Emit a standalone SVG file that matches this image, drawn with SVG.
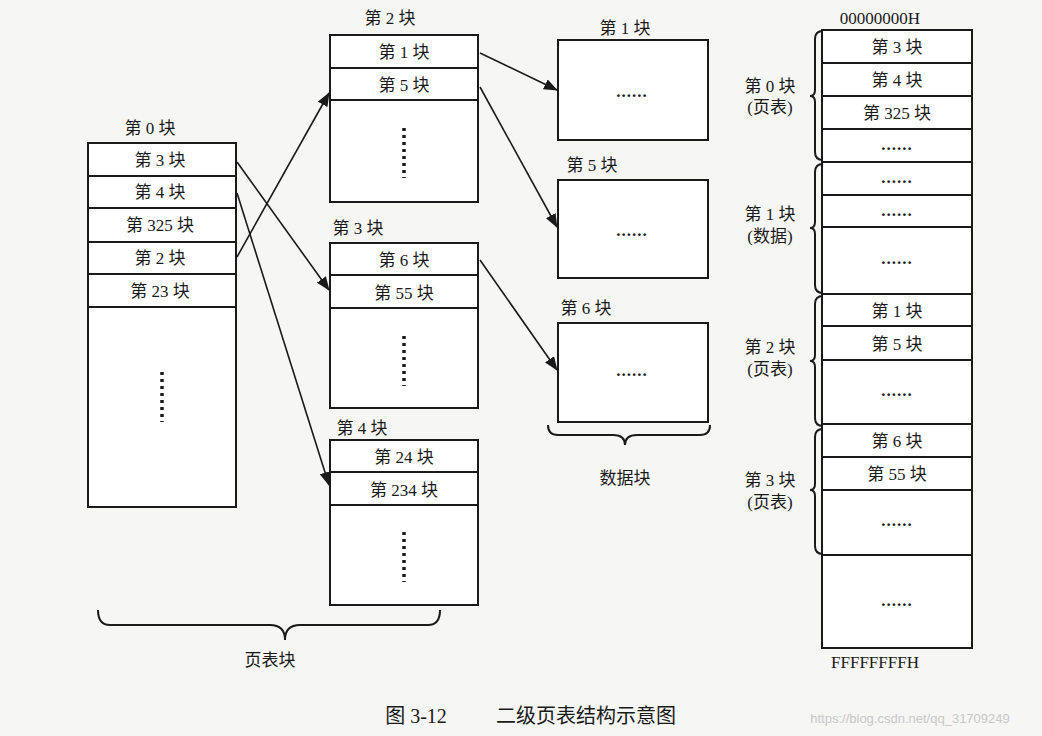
<svg xmlns="http://www.w3.org/2000/svg" width="1042" height="736" viewBox="0 0 1042 736">
<style>
text{font-family:"Liberation Serif","Noto Sans CJK SC",serif;font-size:17px;fill:#1a1a1a;text-anchor:middle}
.e{font-weight:bold;letter-spacing:1px}
.b{fill:#fff;stroke:#1a1a1a;stroke-width:2}
.l{stroke:#1a1a1a;stroke-width:2;fill:none}
.c{stroke:#1a1a1a;stroke-width:1.6;fill:none;marker-end:url(#a)}
.d{stroke:#1a1a1a;stroke-width:3.5;stroke-dasharray:3 4;fill:none}
</style>
<defs><marker id="a" markerWidth="14" markerHeight="11" refX="13" refY="5.5" orient="auto" markerUnits="userSpaceOnUse"><path d="M0,0 L14,5.5 L0,11 Z" fill="#1a1a1a"/></marker></defs>
<rect width="1042" height="736" fill="#f6f6f4"/>
<g id="block0">
<text x="150" y="134">第 0 块</text>
<rect class="b" x="88" y="143" width="148" height="364"/>
<path class="l" d="M88 176H236M88 208H236M88 242H236M88 274H236M88 307H236"/>
<text x="160" y="166">第 3 块</text><text x="160" y="198">第 4 块</text><text x="160" y="231">第 325 块</text><text x="160" y="264">第 2 块</text><text x="160" y="297">第 23 块</text>
<path class="d" d="M162 372V422"/>
</g>
<g id="block2">
<text x="390" y="24">第 2 块</text>
<rect class="b" x="330" y="35" width="148" height="167"/>
<path class="l" d="M330 68H478M330 100H478"/>
<text x="404" y="58">第 1 块</text><text x="404" y="91">第 5 块</text>
<path class="d" d="M404 128V178"/>
</g>
<g id="block3">
<text x="358" y="234">第 3 块</text>
<rect class="b" x="330" y="243" width="148" height="165"/>
<path class="l" d="M330 275H478M330 308H478"/>
<text x="404" y="266">第 6 块</text><text x="404" y="299">第 55 块</text>
<path class="d" d="M404 336V386"/>
</g>
<g id="block4">
<text x="362" y="434">第 4 块</text>
<rect class="b" x="330" y="440" width="148" height="165"/>
<path class="l" d="M330 472H478M330 505H478"/>
<text x="404" y="463">第 24 块</text><text x="404" y="496">第 234 块</text>
<path class="d" d="M404 532V582"/>
</g>
<g id="data1"><text x="625" y="34">第 1 块</text><rect class="b" x="558" y="40" width="150" height="100"/><text class="e" x="632" y="97">......</text></g>
<g id="data5"><text x="592" y="171">第 5 块</text><rect class="b" x="558" y="180" width="150" height="98"/><text class="e" x="632" y="236">......</text></g>
<g id="data6"><text x="586" y="314">第 6 块</text><rect class="b" x="558" y="323" width="150" height="99"/><text class="e" x="632" y="376">......</text></g>
<g id="memory">
<text x="880" y="24">00000000H</text>
<rect class="b" x="822" y="30" width="150" height="618"/>
<path class="l" d="M822 63H972M822 96H972M822 129H972M822 162H972M822 195H972M822 227H972M822 294H972M822 326H972M822 360H972M822 424H972M822 457H972M822 490H972M822 555H972"/>
<text x="897" y="53">第 3 块</text><text x="897" y="86">第 4 块</text><text x="897" y="119">第 325 块</text><text class="e" x="897" y="150">......</text>
<text class="e" x="897" y="183">......</text><text class="e" x="897" y="216">......</text><text class="e" x="897" y="264">......</text>
<text x="897" y="317">第 1 块</text><text x="897" y="350">第 5 块</text><text class="e" x="897" y="396">......</text>
<text x="897" y="447">第 6 块</text><text x="897" y="480">第 55 块</text><text class="e" x="897" y="526">......</text>
<text class="e" x="897" y="606">......</text>
<text x="875" y="668">FFFFFFFFH</text>
<path class="l" stroke-width="1.6" d="M823 31q-8 0-8 8V90q0 6-5 6q5 0 5 6V152q0 8 8 8M823 164q-8 0-8 8V222q0 6-5 6q5 0 5 6V285q0 8 8 8M823 296q-8 0-8 8V355q0 6-5 6q5 0 5 6V418q0 8 8 8M823 429q-8 0-8 8V484q0 6-5 6q5 0 5 6V546q0 8 8 8"/>
<text x="770" y="92">第 0 块</text><text x="770" y="113">(页表)</text>
<text x="770" y="220">第 1 块</text><text x="770" y="242">(数据)</text>
<text x="770" y="353">第 2 块</text><text x="770" y="375">(页表)</text>
<text x="770" y="486">第 3 块</text><text x="770" y="508">(页表)</text>
</g>
<g id="connectors">
<path class="c" d="M237 162L329 290"/>
<path class="c" d="M237 193L329 485"/>
<path class="c" d="M237 257L329 93"/>
<path class="c" d="M480 53L557 90"/>
<path class="c" d="M480 87L557 227"/>
<path class="c" d="M480 260L557 370"/>
</g>
<g id="braces">
<path class="l" stroke-width="1.6" d="M98 610q0 15 12 15H270q15 0 15 15q0-15 15-15H428q12 0 12-15"/>
<text x="270" y="666">页表块</text>
<path class="l" stroke-width="1.6" d="M548 425q0 10 10 10H613q12 0 12 10q0-10 12-10H700q10 0 10-10"/>
<text x="625" y="484">数据块</text>
</g>
<text x="416" y="723" style="font-size:20px">图 3-12</text>
<text x="586" y="723" style="font-size:20px">二级页表结构示意图</text>
<text x="910" y="723" style="font-size:13px;fill:#c8c8c8;font-family:'Liberation Sans',sans-serif">https://blog.csdn.net/qq_31709249</text>
</svg>
